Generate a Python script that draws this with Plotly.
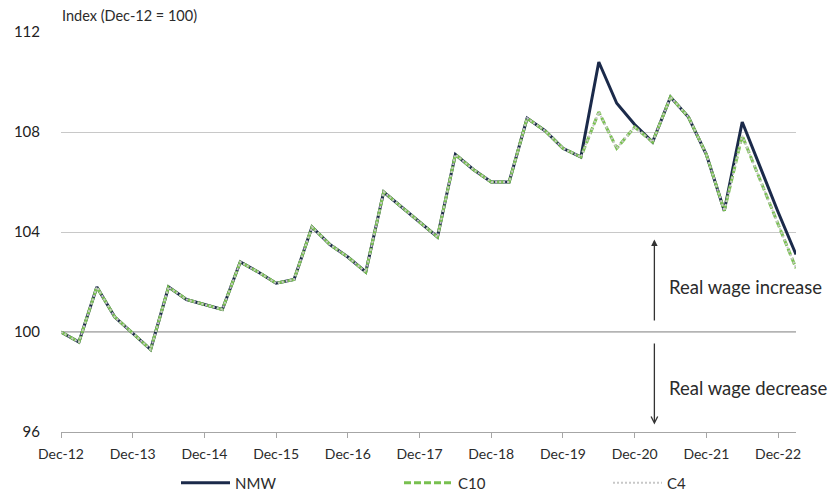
import plotly.graph_objects as go

# Quarterly index values, Dec-12 (=100) through Mar-23
quarter_idx = list(range(42))
tick_positions = [0, 4, 8, 12, 16, 20, 24, 28, 32, 36, 40]
tick_labels = ["Dec-12", "Dec-13", "Dec-14", "Dec-15", "Dec-16", "Dec-17",
               "Dec-18", "Dec-19", "Dec-20", "Dec-21", "Dec-22"]

c10 = [100.0, 99.6, 101.8, 100.6, 99.95, 99.3, 101.8, 101.3, 101.1, 100.9,
       102.8, 102.4, 101.95, 102.1, 104.2, 103.5, 103.0, 102.4, 105.6, 105.0,
       104.4, 103.8, 107.1, 106.5, 106.0, 106.0, 108.55, 108.05, 107.35, 107.0,
       108.8, 107.35, 108.2, 107.6, 109.4, 108.6, 107.1, 104.85, 107.85, 106.1,
       104.3, 102.55]

nmw = c10[:30] + [110.8, 109.15, 108.3, 107.6, 109.4, 108.6, 107.1, 104.85,
                  108.4, 106.6, 104.8, 103.1]

c4 = list(c10)

FONT = "Lato"
TEXT = "#2b2b2b"

fig = go.Figure()
fig.add_trace(go.Scatter(x=quarter_idx, y=nmw, name="NMW", mode="lines",
                         line=dict(color="#1b2a4a", width=3), legend="legend"))
fig.add_trace(go.Scatter(x=quarter_idx, y=c10, name="C10", mode="lines",
                         line=dict(color="#78c04f", width=3, dash="7px,3px"),
                         legend="legend2"))
fig.add_trace(go.Scatter(x=quarter_idx, y=c4, name="C4", mode="lines",
                         line=dict(color="#c8c8c8", width=2, dash="2px,2px"),
                         legend="legend3"))

# heavier reference line at 100
fig.add_shape(type="line", xref="paper", yref="y", x0=0, x1=1, y0=100, y1=100,
              line=dict(color="#b4b4b4", width=2), layer="below")

arrow_x = 33.1
fig.add_annotation(x=arrow_x, y=103.7, ax=arrow_x, ay=100.4, xref="x", yref="y",
                   axref="x", ayref="y", showarrow=True, arrowhead=2,
                   arrowsize=1, arrowwidth=1.3, arrowcolor="#333333", text="")
fig.add_annotation(x=arrow_x, y=96.3, ax=arrow_x, ay=99.6, xref="x", yref="y",
                   axref="x", ayref="y", showarrow=True, arrowhead=5,
                   arrowsize=1, arrowwidth=1.3, arrowcolor="#333333", text="")
fig.add_annotation(x=667, y=287, xref="paper", yref="paper", text="Real wage increase",
                   showarrow=False, xanchor="left", yanchor="middle",
                   font=dict(family=FONT, size=18.5, color=TEXT))
fig.add_annotation(x=667, y=388, xref="paper", yref="paper", text="Real wage decrease",
                   showarrow=False, xanchor="left", yanchor="middle",
                   font=dict(family=FONT, size=18.5, color=TEXT))
fig.add_annotation(x=60, y=15, xref="paper", yref="paper", text="Index (Dec-12 = 100)",
                   showarrow=False, xanchor="left", yanchor="middle",
                   font=dict(family=FONT, size=14.5, color=TEXT))

# convert pixel-placed annotations into paper coordinates
W, H = 831, 492
L, R, T, B = 61, 35, 32, 60
pw, ph = W - L - R, H - T - B
for a in fig.layout.annotations:
    if a.xref == "paper":
        a.x = (a.x - L) / pw
        a.y = 1 - (a.y - T) / ph

legend_y = -(483 - (H - B)) / ph
legend_common = dict(orientation="h", yanchor="middle", xanchor="left", itemwidth=49,
                     bgcolor="rgba(0,0,0,0)", font=dict(family=FONT, size=15, color=TEXT))
fig.update_layout(
    width=W, height=H,
    margin=dict(l=L, r=R, t=T, b=B, autoexpand=False),
    paper_bgcolor="white", plot_bgcolor="white",
    font=dict(family=FONT, size=14, color=TEXT),
    legend=dict(x=(176 - L) / pw, y=legend_y, **legend_common),
    legend2=dict(x=(399 - L) / pw, y=legend_y, **legend_common),
    legend3=dict(x=(608 - L) / pw, y=legend_y, **legend_common),
    showlegend=True,
)
fig.update_xaxes(range=[0, 41], tickmode="array", tickvals=tick_positions,
                 ticktext=tick_labels, showgrid=False, zeroline=False,
                 showline=True, linecolor="#a6a6a6", linewidth=1,
                 ticks="outside", ticklen=5, tickcolor="#a6a6a6",
                 ticklabelstandoff=4,
                 tickfont=dict(family=FONT, size=14, color=TEXT))
fig.update_yaxes(range=[96, 112], tickmode="array", tickvals=[96, 100, 104, 108, 112],
                 showgrid=True, gridcolor="#c8c8c8", gridwidth=1, zeroline=False,
                 showline=False, ticks="", ticklabelstandoff=20,
                 tickfont=dict(family=FONT, size=15, color="#222222"))

fig.write_html("out.html")
